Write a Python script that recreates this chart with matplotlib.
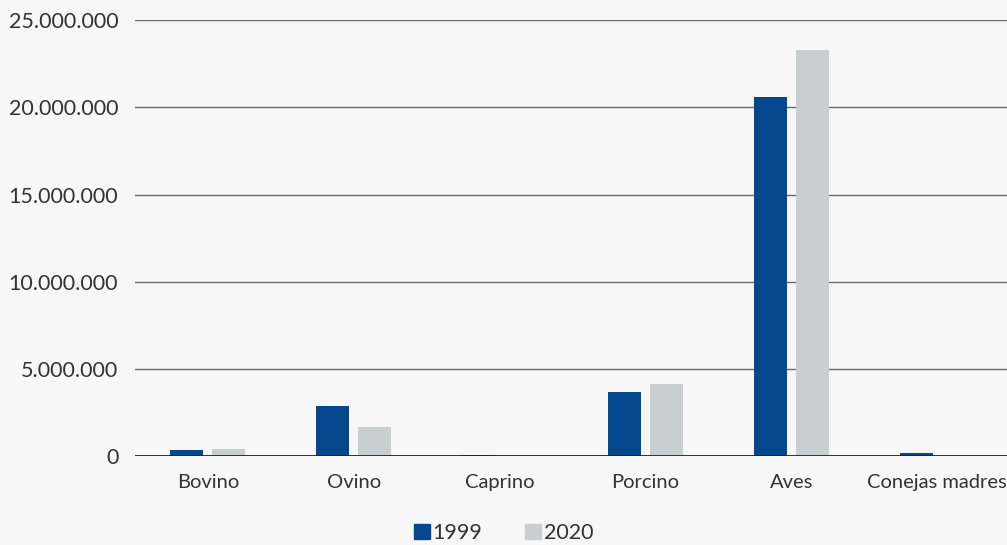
import numpy as np
import matplotlib
matplotlib.use("Agg")
import matplotlib.pyplot as plt
from matplotlib.ticker import FuncFormatter
from matplotlib.patches import Patch

categories = ["Bovino", "Ovino", "Caprino", "Porcino", "Aves", "Conejas madres"]
values_1999 = [350000, 2870000, 40000, 3670000, 20580000, 170000]
values_2020 = [400000, 1660000, 30000, 4130000, 23280000, 20000]
series_labels = ["1999", "2020"]

BLUE = "#04478c"
GRAY = "#c9ced1"
BG = "#f7f7f7"
TEXT = "#333333"

plt.rcParams["font.family"] = ["Lato", "DejaVu Sans"]

fig = plt.figure(figsize=(10.07, 5.45), dpi=100, facecolor=BG)
ax = fig.add_axes([0.134, 0.163, 0.869, 0.800], facecolor=BG)

x = np.arange(len(categories))
w = 0.226
off = 0.144
ax.bar(x - off, values_1999, w, color=BLUE, zorder=3)
ax.bar(x + off, values_2020, w, color=GRAY, zorder=3)

ax.set_xlim(-0.5, len(categories) - 0.5)
ax.set_ylim(0, 25000000)
ax.set_yticks(np.arange(0, 25000001, 5000000))
ax.yaxis.set_major_formatter(FuncFormatter(lambda v, p: f"{int(v):,}".replace(",", ".")))
ax.yaxis.grid(True, color="#6a6a6a", linewidth=1.0, zorder=0)
ax.axhline(0, color="#222222", linewidth=2.0, zorder=4)

ax.set_xticks(x)
ax.set_xticklabels(categories)
ax.tick_params(axis="x", length=0, pad=13, labelsize=14.5, labelcolor=TEXT)
ax.tick_params(axis="y", length=0, pad=12, labelsize=15.5, labelcolor=TEXT)
for s in ax.spines.values():
    s.set_visible(False)

handles = [Patch(color=BLUE), Patch(color=GRAY)]
fig.legend(handles, series_labels, loc="center", bbox_to_anchor=(0.5, 0.022),
           ncol=2, frameon=False, fontsize=15.5, handlelength=0.75, handleheight=0.75,
           handletextpad=0.1, columnspacing=2.0, labelcolor=TEXT)

fig.savefig("out.png", dpi=100, facecolor=BG)
